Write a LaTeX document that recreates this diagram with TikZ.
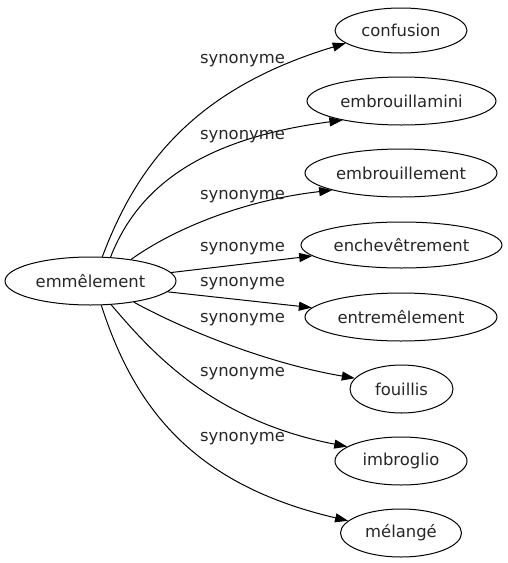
\documentclass[tikz,border=0pt]{standalone}
\usepackage{fontspec}
\setmainfont{DejaVu Sans}
\usetikzlibrary{shapes.geometric,arrows.meta}
\begin{document}
\begin{tikzpicture}[x=1pt,y=-1pt,
  every node/.style={font=\fontsize{16.4}{19}\selectfont, text=black!85},
  wnode/.style={draw, ellipse, line width=1pt, inner sep=0pt},
  syn/.style={draw, line width=1pt, -{Triangle[length=13pt,width=9pt]}},
  lbl/.style={inner sep=0pt}]
\useasboundingbox (0,0) rectangle (507,563);
\node[wnode, minimum width=171pt, minimum height=48pt] (emm) at (90.5,281) {emmêlement};
\node[wnode, minimum width=132pt, minimum height=45pt] (n1) at (401,30.5) {confusion};
\node[wnode, minimum width=189pt, minimum height=48pt] (n2) at (401.5,101) {embrouillamini};
\node[wnode, minimum width=192pt, minimum height=48pt] (n3) at (401,173) {embrouillement};
\node[wnode, minimum width=201pt, minimum height=46pt] (n4) at (401.5,245) {enchevêtrement};
\node[wnode, minimum width=192pt, minimum height=48pt] (n5) at (401,317) {entremêlement};
\node[wnode, minimum width=103pt, minimum height=48pt] (n6) at (401.5,389) {fouillis};
\node[wnode, minimum width=132pt, minimum height=48pt] (n7) at (401,461) {imbroglio};
\node[wnode, minimum width=121pt, minimum height=48pt] (n8) at (401,533) {mélangé};
\draw[syn] (emm.64) .. controls (135,170) and (190,90) .. (n1.193);
\draw[syn] (emm.50) .. controls (135,195) and (190,140) .. (n2.198.6);
\draw[syn] (emm.28) .. controls (175,228) and (245,200) .. (n3.194.4);
\draw[syn] (emm.6.9) -- (n4.187.3);
\draw[syn] (emm.-8.1) -- (n5.174.2);
\draw[syn] (emm.-26.3) .. controls (175,325) and (260,362) .. (n6.167.2);
\draw[syn] (emm.-49.5) .. controls (150,350) and (210,420) .. (n7.165.5);
\draw[syn] (emm.-66) .. controls (135,410) and (195,485) .. (n8.167.8);
\node[lbl] (l1) at (242.5,61) {synonyme};
\node[lbl] (l2) at (242.5,137) {synonyme};
\node[lbl] (l3) at (242.5,197) {synonyme};
\node[lbl] (l4) at (242.5,249) {synonyme};
\node[lbl] (l5) at (242.5,284) {synonyme};
\node[lbl] (l6) at (242.5,320) {synonyme};
\node[lbl] (l7) at (242.5,374) {synonyme};
\node[lbl] (l8) at (242.5,439) {synonyme};
\end{tikzpicture}
\end{document}
